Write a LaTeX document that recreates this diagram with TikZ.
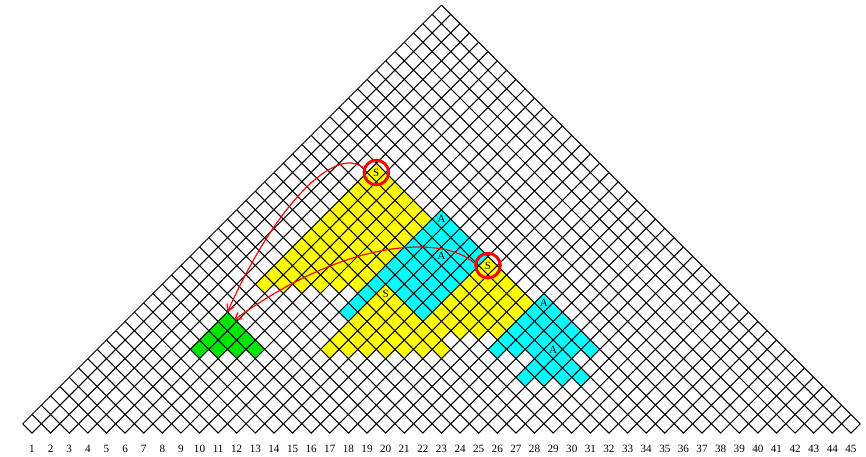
\documentclass[tikz,border=0pt]{standalone}
\usepackage{fontspec}
\setmainfont{Liberation Serif}
\usetikzlibrary{arrows.meta}
\definecolor{ycolor}{RGB}{255,255,0}
\definecolor{ccolor}{RGB}{0,255,255}
\definecolor{gcolor}{RGB}{0,230,0}

% fill the cells (i,j) with a <= i, j <= b and j-i >= m
\newcommand{\chartband}[4]{%
  \pgfmathtruncatemacro{\ilast}{#3-#4}%
  \foreach \i in {#2,...,\ilast}{%
    \pgfmathtruncatemacro{\jfirst}{\i+#4}%
    \foreach \j in {\jfirst,...,#3}
      \fill[#1] ({(\i+\j)/2-0.5},{(\j-\i)/2+0.5}) -- ++(0.5,-0.5) -- ++(0.5,0.5) -- ++(-0.5,0.5) -- cycle;
  }%
}

\begin{document}
\begin{tikzpicture}[
    x=0.5cm, y=0.5cm,
    gridline/.style={line width=0.8pt},
    lbl/.style={font=\fontsize{8.5}{10}\selectfont, inner sep=0pt},
    ring/.style={circle, draw=red, line width=2.3pt, minimum size=0.66cm, inner sep=0pt, font=\fontsize{8.5}{10}\selectfont},
    link/.style={->, >={Straight Barb[length=5pt, width=6pt]}, draw=red, line width=0.9pt}
]
\useasboundingbox (-0.72,-1.24) rectangle (45.81,23.27);

% coloured cells
\chartband{ycolor}{6}{33}{15}
\chartband{ccolor}{12}{34}{12}
\chartband{ycolor}{17}{34}{10}
\chartband{ycolor}{13}{27}{8}
\chartband{ccolor}{22}{35}{8}
\chartband{ccolor}{25}{33}{5}
\chartband{gcolor}{6}{17}{8}

% grid
\foreach \k in {0,...,45}
  \draw[gridline] (\k+0.5,0.5) -- ({(\k+46)/2},{(46-\k)/2});
\foreach \k in {1,...,46}
  \draw[gridline] (\k-0.5,0.5) -- (\k/2,\k/2);
\foreach \k in {1,...,45}
  \draw[gridline] (\k-0.5,0.5) -- (\k,0) -- (\k+0.5,0.5);

% word positions
\foreach \n in {1,...,45}
  \node[lbl] (w\n) at (\n,-0.84) {\n};

% labels
\node[ring] (s1) at (19.5,14) {S};
\node[ring] (s2) at (25.5,9) {S};
\node[lbl] (s3) at (20,7.5) {S};
\node[lbl] (a1) at (23,11.5) {A};
\node[lbl] (a2) at (23,9.5) {A};
\node[lbl] (a3) at (28.5,7) {A};
\node[lbl] (a4) at (29,4.5) {A};
\coordinate (g1) at (11.5,6.5);
\coordinate (g2) at (11.85,6.07);

% arrows
\draw[link] (s1.160) .. controls (17.28,15.48) and (14.06,12.25) .. (g1);
\draw[link] (s2.170) .. controls (23.19,10.59) and (18.09,10.59) .. (g2);
\end{tikzpicture}
\end{document}
